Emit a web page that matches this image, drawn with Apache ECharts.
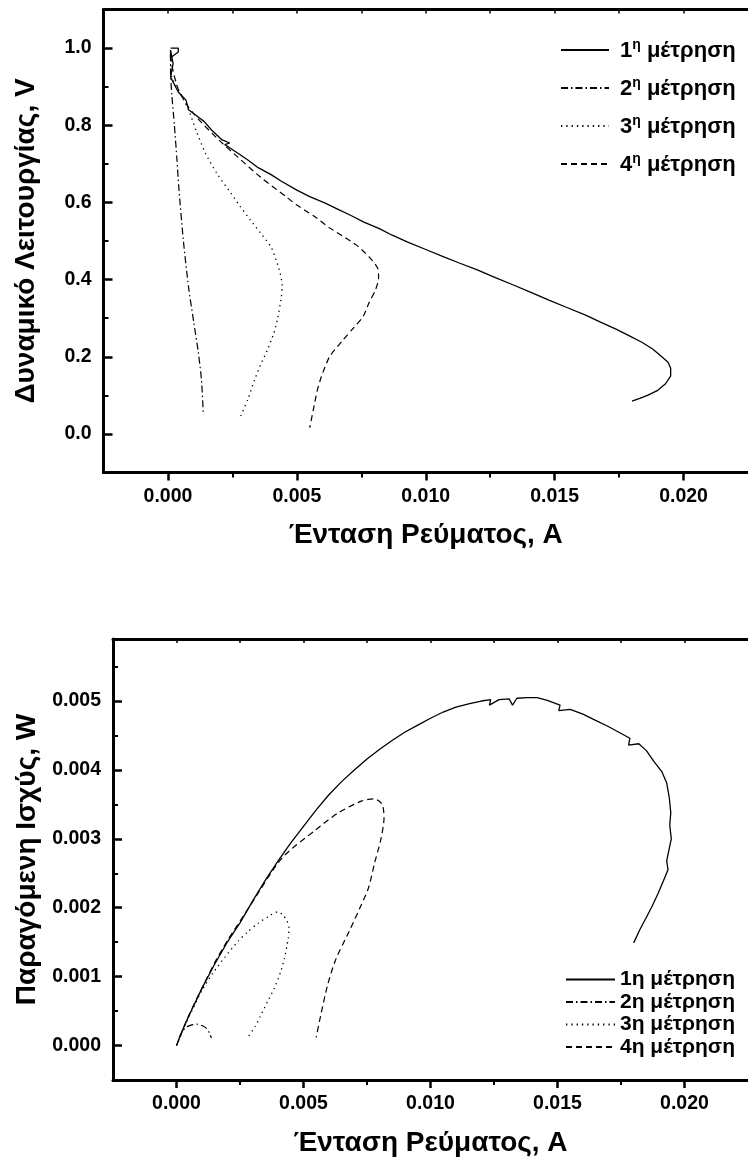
<!DOCTYPE html>
<html>
<head>
<meta charset="utf-8">
<script src="https://cdn.jsdelivr.net/npm/echarts@6/dist/echarts.min.js"></script>
<style>
  html, body { margin: 0; padding: 0; background: #fff; }
  #chart { width: 748px; height: 1158px; }
</style>
</head>
<body>
<div id="chart"></div>
<script>
// Series names (legend text)
const seriesNames = ['1η μέτρηση', '2η μέτρηση', '3η μέτρηση', '4η μέτρηση'];

// Current axis ticks (A)
const currentMajorTicks = [0, 0.005, 0.010, 0.015, 0.020];
const currentMinorTicks = [0.0025, 0.0075, 0.0125, 0.0175];
const currentAllTicks = [-0.0025, 0, 0.0025, 0.005, 0.0075, 0.010, 0.0125, 0.015, 0.0175, 0.020];

// Voltage axis ticks (V)
const voltageMajorTicks = [0, 0.2, 0.4, 0.6, 0.8, 1.0];
const voltageMinorTicks = [0.1, 0.3, 0.5, 0.7, 0.9];

// Power axis ticks (W)
const powerMajorTicks = [0, 0.001, 0.002, 0.003, 0.004, 0.005];
const powerMinorTicks = [0.0005, 0.0015, 0.0025, 0.0035, 0.0045, 0.0055];

// ---- Voltage vs current ----
const ivCurrent1 = [0.0001, 0.0004, 0.0004, 0.0001, 0.0001, 0.0002, 0.0001, 0.0004, 0.0007, 0.0008, 0.0012, 0.0014,
  0.0017, 0.0021, 0.0024, 0.0022, 0.0027, 0.0031, 0.0035, 0.0040, 0.0044, 0.0050, 0.0055, 0.0061, 0.0066,
  0.0071, 0.0076, 0.0082, 0.0087, 0.0093, 0.0100, 0.0107, 0.0113, 0.0120, 0.0127, 0.0134, 0.0141, 0.0148,
  0.0155, 0.0162, 0.0168, 0.0174, 0.0179, 0.0184, 0.0188, 0.0191, 0.0194, 0.0195, 0.0195, 0.0193, 0.0190,
  0.0186, 0.0183, 0.0180];
const ivVoltage1 = [1.000, 1.000, 0.990, 0.975, 0.995, 0.960, 0.925, 0.886, 0.865, 0.840, 0.820, 0.810,
  0.787, 0.762, 0.754, 0.750, 0.728, 0.710, 0.690, 0.672, 0.655, 0.632, 0.615, 0.598, 0.582,
  0.566, 0.549, 0.532, 0.515, 0.497, 0.478, 0.459, 0.443, 0.425, 0.405, 0.386, 0.366, 0.346,
  0.327, 0.308, 0.289, 0.271, 0.254, 0.237, 0.220, 0.203, 0.186, 0.170, 0.150, 0.130, 0.113,
  0.100, 0.092, 0.085];

const ivCurrent2 = [0.0001, 0.0001, 0.00015, 0.00025, 0.00035, 0.00042, 0.0006, 0.0008, 0.0010, 0.00118, 0.0013, 0.00137];
const ivVoltage2 = [0.985, 0.940, 0.880, 0.800, 0.710, 0.640, 0.500, 0.380, 0.290, 0.210, 0.140, 0.054];

const ivCurrent3 = [0.0001, 0.00015, 0.0005, 0.0008, 0.0011, 0.00145, 0.0019, 0.00244, 0.0028, 0.0032, 0.0036,
  0.0040, 0.0042, 0.00435, 0.00443, 0.0044, 0.00424, 0.0041, 0.00386, 0.0036, 0.00336, 0.0031, 0.00279];
const ivVoltage3 = [0.970, 0.925, 0.880, 0.840, 0.785, 0.728, 0.675, 0.624, 0.590, 0.554, 0.520,
  0.484, 0.450, 0.417, 0.385, 0.355, 0.295, 0.260, 0.218, 0.180, 0.140, 0.090, 0.041];

const ivCurrent4 = [0.0001, 0.0002, 0.00042, 0.0007, 0.0010, 0.0014, 0.0020, 0.0027, 0.0036, 0.0046, 0.0050,
  0.0057, 0.00627, 0.0068, 0.0073, 0.0078, 0.00813, 0.00817, 0.00805, 0.0078, 0.00756, 0.0072, 0.0068,
  0.00627, 0.00595, 0.0058, 0.00569, 0.0055];
const ivVoltage4 = [0.980, 0.940, 0.890, 0.857, 0.830, 0.800, 0.760, 0.718, 0.665, 0.614, 0.593,
  0.563, 0.534, 0.512, 0.490, 0.459, 0.430, 0.404, 0.373, 0.340, 0.303, 0.275, 0.244,
  0.200, 0.148, 0.115, 0.080, 0.016];

// ---- Power vs current ----
const pwCurrent1 = [0, 0.0003, 0.0006, 0.0010, 0.0015, 0.0020, 0.0025, 0.0030, 0.0035, 0.0040, 0.0045,
  0.0050, 0.0055, 0.0060, 0.0065, 0.0070, 0.0075, 0.0080, 0.0085, 0.0090, 0.0095, 0.0100, 0.0105,
  0.0110, 0.0115, 0.0120, 0.01237, 0.01232, 0.0127, 0.0131, 0.01323, 0.0134, 0.0138, 0.0142, 0.0146,
  0.0151, 0.01505, 0.0155, 0.0160, 0.0165, 0.0170, 0.01785, 0.0178, 0.0182, 0.0185, 0.0188, 0.0191,
  0.0193, 0.0194, 0.01946, 0.01942, 0.01948, 0.01941, 0.0193, 0.01935, 0.01918, 0.01895, 0.01871,
  0.01851, 0.01824, 0.0180];
const pwPower1 = [0, 0.00028, 0.00052, 0.00083, 0.00118, 0.00150, 0.00178, 0.00210, 0.00240, 0.00268, 0.00294,
  0.00318, 0.00342, 0.00364, 0.00383, 0.00400, 0.00416, 0.00430, 0.00443, 0.00455, 0.00465, 0.00475, 0.00484,
  0.00491, 0.00496, 0.00500, 0.00502, 0.00494, 0.00502, 0.00503, 0.00494, 0.00504, 0.00505, 0.00505, 0.00501,
  0.00494, 0.00486, 0.00488, 0.00481, 0.00472, 0.00463, 0.00446, 0.00436, 0.00438, 0.00428, 0.00412, 0.00398,
  0.00381, 0.00360, 0.00338, 0.00320, 0.00300, 0.00288, 0.00268, 0.00255, 0.00240, 0.00220, 0.00201,
  0.00187, 0.00168, 0.00149];

const pwCurrent2 = [0.0001, 0.0002, 0.0004, 0.0006, 0.0008, 0.0010, 0.00118, 0.0013, 0.00137];
const pwPower2 = [0.0001, 0.00019, 0.00027, 0.00030, 0.00031, 0.00029, 0.00025, 0.00018, 0.00011];

const pwCurrent3 = [0, 0.0003, 0.0006, 0.0010, 0.00145, 0.0019, 0.00244, 0.0028, 0.0032, 0.0036, 0.0040,
  0.0042, 0.00435, 0.00443, 0.0044, 0.00424, 0.0041, 0.00386, 0.0036, 0.00336, 0.0031, 0.00279];
const pwPower3 = [0, 0.00027, 0.00050, 0.00080, 0.00106, 0.00128, 0.00152, 0.00165, 0.00177, 0.00187, 0.00194,
  0.00189, 0.00181, 0.00170, 0.00156, 0.00125, 0.00107, 0.00084, 0.00065, 0.00047, 0.00028, 0.00011];

const pwCurrent4 = [0, 0.0005, 0.0010, 0.0015, 0.0020, 0.0029, 0.00415, 0.00548, 0.00638, 0.0073, 0.0078,
  0.0081, 0.00817, 0.00805, 0.0078, 0.00756, 0.0072, 0.0068, 0.00627, 0.00595, 0.00569, 0.0055];
const pwPower4 = [0, 0.00045, 0.00083, 0.00120, 0.00152, 0.00203, 0.00272, 0.00313, 0.00338, 0.00355, 0.00358,
  0.00350, 0.00330, 0.00300, 0.00265, 0.00229, 0.00198, 0.00166, 0.00125, 0.00088, 0.00046, 0.00012];

const pairs = (xs, ys) => xs.map((x, i) => [x, ys[i]]);

const FONT = '"Liberation Sans", Arial, sans-serif';
const BLACK = '#000';

const lineStyles = [
  { color: BLACK, width: 1.3, type: 'solid' },
  { color: BLACK, width: 1.2, type: [7, 3, 1.5, 3] },
  { color: BLACK, width: 1.3, type: [1.3, 4] },
  { color: BLACK, width: 1.2, type: [6, 4] }
];

function makeSeries(xIdx, yIdx, dataSets) {
  return dataSets.map((d, i) => ({
    name: seriesNames[i],
    type: 'line',
    xAxisIndex: xIdx,
    yAxisIndex: yIdx,
    data: d,
    symbol: 'none',
    showSymbol: false,
    smooth: i === 0 ? false : 0.25,
    lineStyle: lineStyles[i],
    itemStyle: { color: BLACK },
    emphasis: { disabled: true },
    clip: false,
    z: 3
  }));
}

const grids = [
  { left: 103.5, top: 9.5, width: 655, height: 463 },
  { left: 113, top: 639, width: 639, height: 441.5 }
];

function currentAxes(gridIndex) {
  const base = { type: 'value', gridIndex, min: -0.0025, max: 0.0225, splitLine: { show: false } };
  return [
    Object.assign({}, base, {
      position: 'bottom',
      axisLine: { show: true, onZero: false, lineStyle: { color: BLACK, width: 3 } },
      axisTick: { show: true, inside: false, length: 8, lineStyle: { color: BLACK, width: 2.5 }, customValues: currentMajorTicks },
      axisLabel: { show: true, customValues: currentMajorTicks, formatter: v => v.toFixed(3),
        color: BLACK, fontFamily: FONT, fontWeight: 'bold', fontSize: 19.5, margin: 14 },
      name: 'Ένταση Ρεύματος, A',
      nameLocation: 'middle',
      nameGap: 49,
      nameTextStyle: { color: BLACK, fontFamily: FONT, fontWeight: 'bold', fontSize: 28 }
    }),
    Object.assign({}, base, {
      position: 'bottom',
      axisLine: { show: false, onZero: false },
      axisTick: { show: true, inside: false, length: 5, lineStyle: { color: BLACK, width: 2 }, customValues: currentMinorTicks },
      axisLabel: { show: false }
    }),
    Object.assign({}, base, {
      position: 'top',
      axisLine: { show: true, onZero: false, lineStyle: { color: BLACK, width: 3 } },
      axisTick: { show: true, inside: true, length: 4, lineStyle: { color: BLACK, width: 1.5 }, customValues: currentAllTicks },
      axisLabel: { show: false }
    })
  ];
}

function valueAxes(gridIndex, min, max, major, minor, digits, name, gap) {
  const base = { type: 'value', gridIndex, min, max, position: 'left', splitLine: { show: false } };
  return [
    Object.assign({}, base, {
      axisLine: { show: true, onZero: false, lineStyle: { color: BLACK, width: 3 } },
      axisTick: { show: true, inside: true, length: 9, lineStyle: { color: BLACK, width: 2.5 }, customValues: major },
      axisLabel: { show: true, customValues: major, formatter: v => v.toFixed(digits),
        color: BLACK, fontFamily: FONT, fontWeight: 'bold', fontSize: 19.5, margin: 12 },
      name,
      nameLocation: 'middle',
      nameGap: gap,
      nameRotate: 90,
      nameTextStyle: { color: BLACK, fontFamily: FONT, fontWeight: 'bold', fontSize: 28 }
    }),
    Object.assign({}, base, {
      axisLine: { show: false, onZero: false },
      axisTick: { show: true, inside: true, length: 5, lineStyle: { color: BLACK, width: 2 }, customValues: minor },
      axisLabel: { show: false }
    })
  ];
}

const xAxes = [].concat(currentAxes(0), currentAxes(1));
const yAxes = [].concat(
  valueAxes(0, -0.1, 1.1, voltageMajorTicks, voltageMinorTicks, 1, 'Δυναμικό Λειτουργίας, V', 63),
  valueAxes(1, -0.0005, 0.0059, powerMajorTicks, powerMinorTicks, 3, 'Παραγόμενη Ισχύς, W', 71)
);

const ivData = [pairs(ivCurrent1, ivVoltage1), pairs(ivCurrent2, ivVoltage2), pairs(ivCurrent3, ivVoltage3), pairs(ivCurrent4, ivVoltage4)];
const pwData = [pairs(pwCurrent1, pwPower1), pairs(pwCurrent2, pwPower2), pairs(pwCurrent3, pwPower3), pairs(pwCurrent4, pwPower4)];

// Legend icons: line sample only, no marker
const legendMarker = { color: 'transparent', borderWidth: 0, opacity: 0 };

const chart = echarts.init(document.getElementById('chart'), null, { renderer: 'canvas' });
chart.setOption({
  animation: false,
  backgroundColor: '#fff',
  textStyle: { fontFamily: FONT },
  grid: grids,
  xAxis: xAxes,
  yAxis: yAxes,
  legend: [
    {
      orient: 'vertical',
      left: 560,
      top: 38,
      padding: 0,
      itemWidth: 48,
      itemHeight: 14,
      itemGap: 14,
      selectedMode: false,
      itemStyle: legendMarker,
      data: seriesNames,
      formatter: name => '{n|' + name.charAt(0) + '}{s|η}{t| μέτρηση}',
      textStyle: {
        color: BLACK,
        rich: {
          n: { fontFamily: FONT, fontWeight: 'bold', fontSize: 22, color: BLACK, padding: [0, 0, 0, 6], lineHeight: 24, verticalAlign: 'bottom' },
          s: { fontFamily: FONT, fontWeight: 'bold', fontSize: 14, color: BLACK, lineHeight: 24, verticalAlign: 'top' },
          t: { fontFamily: FONT, fontWeight: 'bold', fontSize: 22, color: BLACK, lineHeight: 24, verticalAlign: 'bottom' }
        }
      }
    },
    {
      orient: 'vertical',
      left: 565,
      top: 969,
      padding: 0,
      itemWidth: 49,
      itemHeight: 14,
      itemGap: 1.5,
      selectedMode: false,
      itemStyle: legendMarker,
      data: seriesNames,
      textStyle: { color: BLACK, fontFamily: FONT, fontWeight: 'bold', fontSize: 21, lineHeight: 20 }
    }
  ],
  series: [].concat(makeSeries(0, 0, ivData), makeSeries(3, 2, pwData))
});
</script>
</body>
</html>
